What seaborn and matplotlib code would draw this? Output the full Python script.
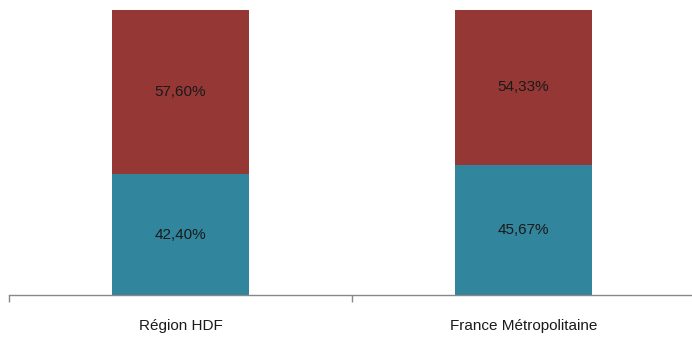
import matplotlib
matplotlib.use("Agg")
import matplotlib.pyplot as plt
import seaborn as sns
import pandas as pd
from matplotlib.ticker import FixedLocator, NullFormatter, FixedFormatter

categories = ["Région HDF", "France Métropolitaine"]
bottom_vals = [42.40, 45.67]
top_vals = [57.60, 54.33]
bottom_labels = ["42,40%", "45,67%"]
top_labels = ["57,60%", "54,33%"]

sns.set_style("white")
plt.rcParams['font.family'] = ['Liberation Sans', 'DejaVu Sans']

df = pd.DataFrame({
    "cat": categories,
    "total": [b + t for b, t in zip(bottom_vals, top_vals)],
    "bottom": bottom_vals,
})

fig = plt.figure(figsize=(6.92, 3.39), dpi=100)
ax = fig.add_axes([9 / 692, 44 / 339, 683 / 692, 285 / 339])

red = "#953735"
teal = "#31859C"
sns.barplot(data=df, x="cat", y="total", color=red, width=0.4, ax=ax,
            saturation=1, linewidth=0)
sns.barplot(data=df, x="cat", y="bottom", color=teal, width=0.4, ax=ax,
            saturation=1, linewidth=0)

for i in range(len(categories)):
    ax.text(i, bottom_vals[i] / 2, bottom_labels[i], ha="center", va="center",
            fontsize=11, color="#1a1a1a")
    ax.text(i, bottom_vals[i] + top_vals[i] / 2, top_labels[i], ha="center", va="center",
            fontsize=11, color="#1a1a1a")

ax.set_ylim(0, 100)
ax.set_xlim(-0.5, 1.491)
ax.set_xlabel("")
ax.set_ylabel("")
ax.set_yticks([])

ax.xaxis.set_major_locator(FixedLocator([-0.5, 0.5, 1.5]))
ax.xaxis.set_major_formatter(NullFormatter())
ax.xaxis.set_minor_locator(FixedLocator([0, 1]))
ax.xaxis.set_minor_formatter(FixedFormatter(categories))
ax.tick_params(axis="x", which="major", direction="out", length=5, width=1,
               color="#888888", bottom=True)
ax.tick_params(axis="x", which="minor", length=0, pad=17, labelsize=11,
               labelcolor="#1a1a1a")

for s in ["top", "right", "left"]:
    ax.spines[s].set_visible(False)
ax.spines["bottom"].set_color("#888888")
ax.spines["bottom"].set_linewidth(1)

fig.savefig("out.png", dpi=100)
